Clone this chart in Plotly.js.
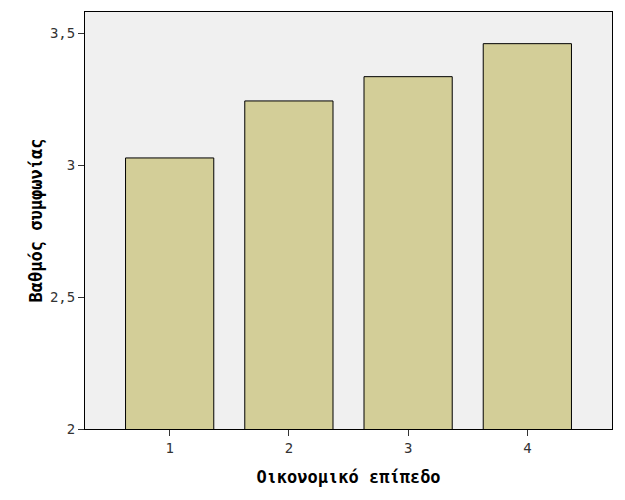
<!DOCTYPE html>
<html>
<head>
<meta charset="utf-8">
<script src="https://cdn.plot.ly/plotly-3.0.1.min.js"></script>
<style>html,body{margin:0;padding:0;background:#fff;}#chart{width:625px;height:500px;}</style>
</head>
<body>
<div id="chart"></div>
<script>
const categories = [1, 2, 3, 4];
const values = [3.027, 3.243, 3.335, 3.46];
const yTickVals = [2, 2.5, 3, 3.5];
const yTickText = ["2", "2,5", "3", "3,5"];
const xTitle = "Οικονομικό επίπεδο";
const yTitle = "Βαθμός συμφωνίας";

const trace = {
  type: "bar",
  x: categories,
  y: values,
  width: 0.74,
  marker: {color: "#D3CE98", line: {color: "#000000", width: 1}},
  hoverinfo: "none"
};

const tickFont = {family: "DejaVu Sans Mono", size: 14, color: "#333333"};
const titleFont = {family: "DejaVu Sans Mono", size: 17, color: "#000000", weight: "bold"};

const layout = {
  width: 625, height: 500,
  margin: {l: 85, r: 13, t: 12, b: 71},
  paper_bgcolor: "#FFFFFF",
  plot_bgcolor: "#F0F0F0",
  showlegend: false,
  xaxis: {
    range: [0.29, 4.71],
    tickvals: categories,
    ticktext: categories.map(String),
    ticks: "outside", ticklen: 6, tickcolor: "#333333", tickwidth: 1,
    showgrid: false, zeroline: false,
    showline: true, linecolor: "#000000", linewidth: 1, mirror: true,
    tickfont: tickFont,
    title: {text: xTitle, font: titleFont, standoff: 16}
  },
  yaxis: {
    range: [2, 3.58],
    tickvals: yTickVals,
    ticktext: yTickText,
    ticks: "outside", ticklen: 6, tickcolor: "#333333", tickwidth: 1,
    showgrid: false, zeroline: false,
    showline: true, linecolor: "#000000", linewidth: 1, mirror: true,
    tickfont: tickFont,
    title: {text: yTitle, font: titleFont, standoff: 2}
  }
};

Plotly.newPlot("chart", [trace], layout, {displayModeBar: false, staticPlot: true});
</script>
</body>
</html>
